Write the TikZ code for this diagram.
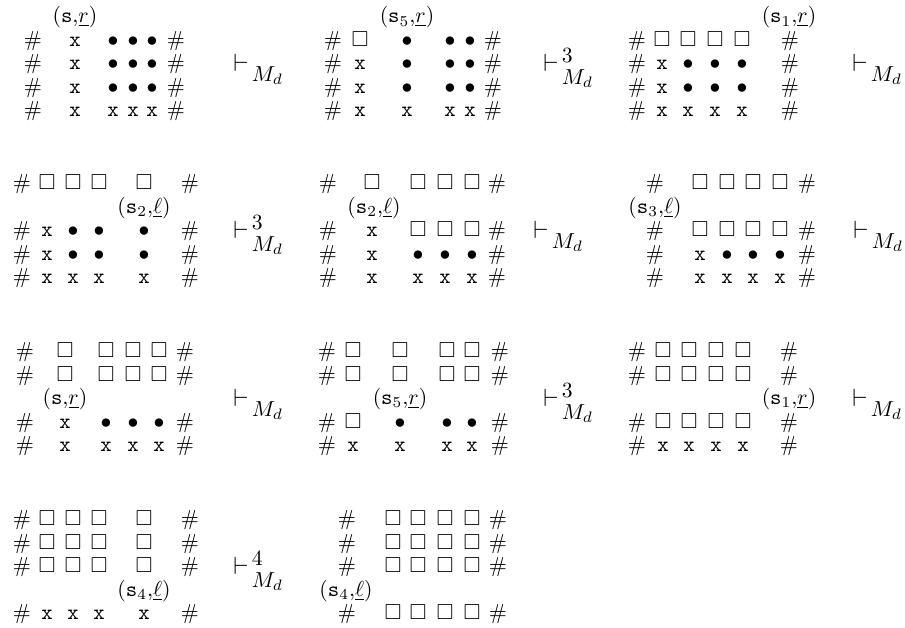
\documentclass[tikz,border=0pt]{standalone}
\usepackage{amsmath, amssymb}
\usepackage{graphicx}
\usepackage{tikz}

% tape symbols
\newcommand{\tH}{\#}
\newcommand{\tX}{\mathtt{x}}
\newcommand{\tD}{\bullet}
\newcommand{\tB}{\square}

% one row of a configuration: name, y, column list, symbols
\newcommand{\tape}[4]{%
  \foreach \sym [count=\ci] in {#4}{%
    \edef\colexp{{#3}[\the\numexpr\ci-1\relax]}%
    \pgfmathsetmacro{\colx}{\colexp}%
    \node[cell] (#1-\ci) at (\colx,#2) {$\sym$};
  }}

% yields relation, with and without step count
\newcommand{\yields}{\scalebox{1.15}{$\vdash$}\kern1.5pt\raisebox{-4.6pt}{$M_d$}}
\newcommand{\yieldsn}[1]{\scalebox{1.15}{$\vdash$}\kern1.5pt\rlap{\raisebox{3.8pt}{$#1$}}\raisebox{-6.1pt}{$M_d$}}

\begin{document}
\begin{tikzpicture}[x=0.0162cm, y=-0.0162cm,
	cell/.style={inner sep=0pt, text height=1.5ex, text depth=.25ex},
	turn/.style={inner sep=0pt, anchor=base west, yshift=-3.4pt}]
	\useasboundingbox (0,0) rectangle (905,628);
	
	% First line of configurations
	\def\colsA{33,75,113,133,152,176}
	\node[cell] (A-s) at (75,17) {$(\mathtt{s}{,}\underline{r})$};
	\tape{A1}{40.4}{\colsA}{\tH,\tX,\tD,\tD,\tD,\tH}
	\tape{A2}{63.8}{\colsA}{\tH,\tX,\tD,\tD,\tD,\tH}
	\tape{A3}{87.2}{\colsA}{\tH,\tX,\tD,\tD,\tD,\tH}
	\tape{A4}{110.6}{\colsA}{\tH,\tX,\tX,\tX,\tX,\tH}
	\node[turn] (mvA) at (233,63.8) {\yields};
	
	\def\colsB{333,360,407,450,470,493}
	\node[cell] (B-s) at (407,17) {$(\mathtt{s}_5{,}\underline{r})$};
	\tape{B1}{40.4}{\colsB}{\tH,\tB,\tD,\tD,\tD,\tH}
	\tape{B2}{63.8}{\colsB}{\tH,\tX,\tD,\tD,\tD,\tH}
	\tape{B3}{87.2}{\colsB}{\tH,\tX,\tD,\tD,\tD,\tH}
	\tape{B4}{110.6}{\colsB}{\tH,\tX,\tX,\tX,\tX,\tH}
	\node[turn] (mvB) at (543,63.8) {\yieldsn{3}};
	
	\def\colsC{637,662,688,715,742,790}
	\node[cell] (C-s) at (789,17) {$(\mathtt{s}_1{,}\underline{r})$};
	\tape{C1}{40.4}{\colsC}{\tH,\tB,\tB,\tB,\tB,\tH}
	\tape{C2}{63.8}{\colsC}{\tH,\tX,\tD,\tD,\tD,\tH}
	\tape{C3}{87.2}{\colsC}{\tH,\tX,\tD,\tD,\tD,\tH}
	\tape{C4}{110.6}{\colsC}{\tH,\tX,\tX,\tX,\tX,\tH}
	\node[turn] (mvC) at (852,63.8) {\yields};
	
	% Second line
	\def\colsD{22,47,73,99,144,190}
	\tape{D1}{184}{\colsD}{\tH,\tB,\tB,\tB,\tB,\tH}
	\node[cell] (D-s) at (144,207.4) {$(\mathtt{s}_2{,}\underline{\ell})$};
	\tape{D2}{230.8}{\colsD}{\tH,\tX,\tD,\tD,\tD,\tH}
	\tape{D3}{254.2}{\colsD}{\tH,\tX,\tD,\tD,\tD,\tH}
	\tape{D4}{277.6}{\colsD}{\tH,\tX,\tX,\tX,\tX,\tH}
	\node[turn] (mvD) at (233,230.8) {\yieldsn{3}};
	
	\def\colsE{328,372,418,445,472,497}
	\tape{E1}{184}{\colsE}{\tH,\tB,\tB,\tB,\tB,\tH}
	\node[cell] (E-s) at (374,207.4) {$(\mathtt{s}_2{,}\underline{\ell})$};
	\tape{E2}{230.8}{\colsE}{\tH,\tX,\tB,\tB,\tB,\tH}
	\tape{E3}{254.2}{\colsE}{\tH,\tX,\tD,\tD,\tD,\tH}
	\tape{E4}{277.6}{\colsE}{\tH,\tX,\tX,\tX,\tX,\tH}
	\node[turn] (mvE) at (533,230.8) {\yields};
	
	\def\colsF{655,700,727,753,780,807}
	\tape{F1}{184}{\colsF}{\tH,\tB,\tB,\tB,\tB,\tH}
	\node[cell] (F-s) at (655,207.4) {$(\mathtt{s}_3{,}\underline{\ell})$};
	\tape{F2}{230.8}{\colsF}{\tH,\tB,\tB,\tB,\tB,\tH}
	\tape{F3}{254.2}{\colsF}{\tH,\tX,\tD,\tD,\tD,\tH}
	\tape{F4}{277.6}{\colsF}{\tH,\tX,\tX,\tX,\tX,\tH}
	\node[turn] (mvF) at (853,230.8) {\yields};
	
	% Third line
	\def\colsG{25,65,106,133,159,185}
	\tape{G1}{352}{\colsG}{\tH,\tB,\tB,\tB,\tB,\tH}
	\tape{G2}{375.4}{\colsG}{\tH,\tB,\tB,\tB,\tB,\tH}
	\node[cell] (G-s) at (65,398.8) {$(\mathtt{s}{,}\underline{r})$};
	\tape{G3}{422.2}{\colsG}{\tH,\tX,\tD,\tD,\tD,\tH}
	\tape{G4}{445.6}{\colsG}{\tH,\tX,\tX,\tX,\tX,\tH}
	\node[turn] (mvG) at (233,398.8) {\yields};
	
	\def\colsH{327,353,400,447,472,500}
	\tape{H1}{352}{\colsH}{\tH,\tB,\tB,\tB,\tB,\tH}
	\tape{H2}{375.4}{\colsH}{\tH,\tB,\tB,\tB,\tB,\tH}
	\node[cell] (H-s) at (400,398.8) {$(\mathtt{s}_5{,}\underline{r})$};
	\tape{H3}{422.2}{\colsH}{\tH,\tB,\tD,\tD,\tD,\tH}
	\tape{H4}{445.6}{\colsH}{\tH,\tX,\tX,\tX,\tX,\tH}
	\node[turn] (mvH) at (543,398.8) {\yieldsn{3}};
	
	\def\colsI{637,663,689,716,743,789}
	\tape{I1}{352}{\colsI}{\tH,\tB,\tB,\tB,\tB,\tH}
	\tape{I2}{375.4}{\colsI}{\tH,\tB,\tB,\tB,\tB,\tH}
	\node[cell] (I-s) at (789,398.8) {$(\mathtt{s}_1{,}\underline{r})$};
	\tape{I3}{422.2}{\colsI}{\tH,\tB,\tB,\tB,\tB,\tH}
	\tape{I4}{445.6}{\colsI}{\tH,\tX,\tX,\tX,\tX,\tH}
	\node[turn] (mvI) at (852,398.8) {\yields};
	
	% Fourth line
	\def\colsJ{22,47,73,99,144,190}
	\tape{J1}{520}{\colsJ}{\tH,\tB,\tB,\tB,\tB,\tH}
	\tape{J2}{543.4}{\colsJ}{\tH,\tB,\tB,\tB,\tB,\tH}
	\tape{J3}{566.8}{\colsJ}{\tH,\tB,\tB,\tB,\tB,\tH}
	\node[cell] (J-s) at (144,590.2) {$(\mathtt{s}_4{,}\underline{\ell})$};
	\tape{J4}{613.6}{\colsJ}{\tH,\tX,\tX,\tX,\tX,\tH}
	\node[turn] (mvJ) at (233,566.8) {\yieldsn{4}};
	
	\def\colsK{347,393,418,445,472,498}
	\tape{K1}{520}{\colsK}{\tH,\tB,\tB,\tB,\tB,\tH}
	\tape{K2}{543.4}{\colsK}{\tH,\tB,\tB,\tB,\tB,\tH}
	\tape{K3}{566.8}{\colsK}{\tH,\tB,\tB,\tB,\tB,\tH}
	\node[cell] (K-s) at (346,590.2) {$(\mathtt{s}_4{,}\underline{\ell})$};
	\tape{K4}{613.6}{\colsK}{\tH,\tB,\tB,\tB,\tB,\tH}
\end{tikzpicture}
\end{document}
